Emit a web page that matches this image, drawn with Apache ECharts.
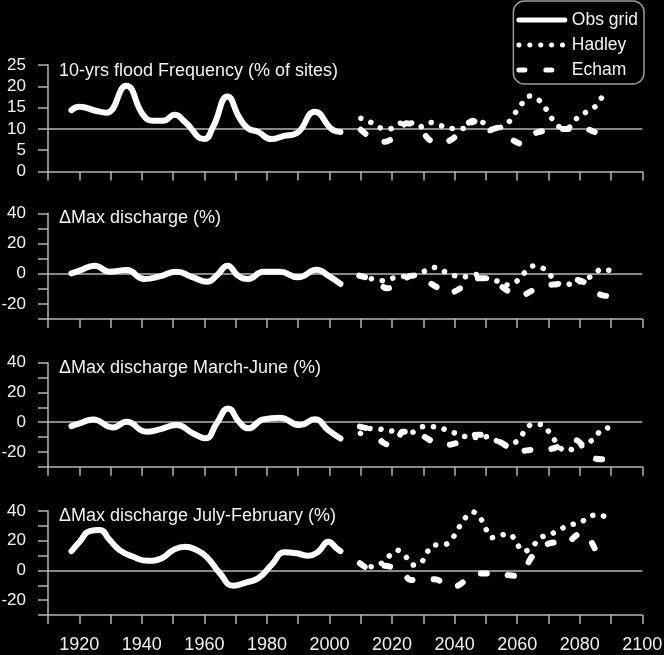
<!DOCTYPE html>
<html><head><meta charset="utf-8">
<script src="https://cdn.jsdelivr.net/npm/echarts@6/dist/echarts.min.js"></script>
<style>html,body{margin:0;padding:0;background:#000}#c{width:664px;height:655px}</style>
</head><body><div id="c"></div><script>
// ---- data ----
const panelTitles = ['10-yrs flood Frequency (% of sites)', '\u0394Max discharge (%)', '\u0394Max discharge March-June (%)', '\u0394Max discharge July-February (%)'];
const seriesNames = ['Obs grid', 'Hadley', 'Echam'];
const xLabelYears = [1920, 1940, 1960, 1980, 2000, 2020, 2040, 2060, 2080, 2100];
const yLabelsFlood = [0, 5, 10, 15, 20, 25];
const yLabelsDischarge = [-20, 0, 20, 40];
const refLines = [10, 0, 0, 0];

const obsFlood = [[1917.5,14.4],[1920,15.2],[1925.5,14.2],[1928.7,13.8],[1935,20.1],[1940.4,13.3],[1943.6,11.9],[1946.8,11.9],[1950.5,13.3],[1953.7,11.7],[1960,7.6],[1962.8,10.5],[1967.4,17.6],[1971.3,12.5],[1974,10.1],[1977.2,9.3],[1981.5,7.6],[1985.2,8.3],[1989.5,9.0],[1995.3,14.0],[2001.2,9.7],[2003.5,9.3]];
const hadleyFlood = [[2010,12.5],[2013,11.6],[2016,10.3],[2019.3,10.0],[2022.5,11.3],[2026.7,11.4],[2029,10.5],[2032.3,11.5],[2035.8,10.7],[2039.2,10.1],[2042.8,10.1],[2046.2,11.6],[2049,11.5],[2051.5,9.6],[2054.5,10.3],[2057.2,11.5],[2059.3,13.7],[2061.4,15.8],[2063.8,17.7],[2066.7,16.9],[2069.1,14.8],[2071,12.5],[2073.5,10.5],[2076.6,10.4],[2078.8,12.3],[2081.7,13.8],[2084.9,15.2],[2087,17.3],[2089.5,18.9]];
const echamFlood = [[2010,9.8],[2012.5,8.3],[2015,7.3],[2018,7.0],[2020.4,8.0],[2022.5,10],[2024.6,11.3],[2028,10.7],[2030,9.2],[2031.4,7.8],[2034.2,6.5],[2037,6.8],[2039.6,7.8],[2041.9,9.7],[2044,11.2],[2045.8,11.9],[2049.2,9.7],[2051.5,9.8],[2054,10.3],[2056.6,8.8],[2059,7.2],[2061.2,6.5],[2063.9,8.2],[2066.5,9.2],[2068.9,9.6],[2071.5,10.1],[2075,10],[2077.8,10],[2081.1,10.2],[2084,9.5],[2086.7,8.7],[2089.5,7.6]];

const obsMax = [[1917.5,0.2],[1920.1,2],[1924.9,5.3],[1929.7,1.3],[1935.1,2.4],[1940.9,-3.5],[1945.7,-1.8],[1951.1,1.3],[1956.4,-2.4],[1960.9,-5.3],[1963.9,-1.3],[1967.4,5.3],[1970.8,-1.3],[1974,-3.5],[1978.8,1.3],[1984.1,1.3],[1990,-2.4],[1995.9,2.6],[1999.6,-1.3],[2003.5,-6.8]];
const hadleyMax = [[2010,-1.8],[2012.9,-3.1],[2016.9,-4.6],[2020.3,-2.9],[2023.8,-1.8],[2026.8,-1.3],[2030,1.3],[2033.2,4.2],[2036.6,1.5],[2039.9,-1.3],[2043.3,-2],[2047.1,-0.5],[2050.8,-3.5],[2053.8,-5],[2057,-7.5],[2060.1,-4.6],[2062.5,0.9],[2065.4,5.3],[2068.7,3.1],[2071.2,-2.4],[2074,-7.3],[2077.1,-6.8],[2080.8,-4.6],[2084,-1.3],[2087,3.1],[2090.2,1.8]];
const echamMax = [[2009.5,-1.3],[2013.1,-3.5],[2016,-7],[2018.3,-9.7],[2021.2,-7.9],[2023.7,-4],[2026.2,-1.3],[2029.4,-2.4],[2032,-6],[2034.4,-9.1],[2037.2,-13.5],[2039.8,-12],[2042.2,-9.1],[2044.9,-4.6],[2047.5,-3],[2050,-3.1],[2053.6,-6.2],[2056,-10],[2058.2,-12.8],[2061.1,-15],[2064,-12],[2066.7,-9.1],[2069.9,-7.5],[2072.5,-7],[2075.3,-6.2],[2078.8,-4],[2081.3,-5.5],[2083.8,-8.4],[2086.3,-13.5],[2089.5,-15],[2092.7,-15.7]];

const obsMarJun = [[1917.5,-2.7],[1920.1,-0.9],[1924.4,1.8],[1930.8,-3.6],[1935.1,0.2],[1941.5,-6.5],[1945.7,-4.9],[1951.1,-2],[1956.4,-7.6],[1960.4,-10.9],[1963.9,-0.9],[1967.6,9.2],[1971.1,0.2],[1974,-4.2],[1978.8,1.8],[1984.1,2.9],[1990.5,-2],[1995.3,2],[1999.6,-5.4],[2003.5,-11]];
const hadleyMarJun = [[2009.9,-7.6],[2012.7,-4.3],[2016.7,-4.9],[2020,-6],[2023.6,-6.5],[2025.5,-7.6],[2030,-3.1],[2033.5,-3.1],[2036.9,-4.9],[2040.4,-7.6],[2043.8,-9.9],[2047,-10.3],[2050.4,-9.9],[2054,-13.2],[2057,-16.2],[2060,-12.6],[2062.3,-6.5],[2064.8,-1.3],[2068.2,-2],[2070.5,-7.6],[2072.6,-13.9],[2075.1,-19.2],[2078.5,-17.7],[2081.7,-14.8],[2084.7,-11],[2087,-4.9],[2090.2,-3.8]];
const echamMarJun = [[2009.7,-3],[2013.5,-5.4],[2015.5,-10],[2017.2,-13.9],[2020.4,-16.2],[2022,-11],[2023.4,-6.5],[2028,-7.2],[2030.5,-10],[2033,-13.2],[2036.2,-15.5],[2039,-15],[2041.5,-13.2],[2044,-9.9],[2047,-8.5],[2049.7,-8.8],[2052.9,-11.7],[2055,-14],[2056.8,-16.2],[2060.7,-20],[2063,-19],[2066.4,-18.4],[2069.9,-18.4],[2072.5,-17],[2075.3,-14.8],[2078.8,-12.1],[2081,-16],[2082.7,-20],[2084.9,-24.5],[2088,-25],[2090.5,-25],[2093.4,-25]];

const obsJulFeb = [[1917.5,13],[1920.1,19.3],[1923.3,26.5],[1926.5,27.2],[1929.7,20.5],[1932.9,13.7],[1937.2,9.2],[1942,6.5],[1946.3,8.1],[1950,13.7],[1953.8,16],[1957.5,13.7],[1960.7,9.2],[1965,-2],[1969.2,-10.3],[1973.5,-8],[1977.2,-5.3],[1981.4,3.6],[1985.7,12.2],[1989.5,11.5],[1993.2,9.9],[1996.4,12.6],[1999.6,19.3],[2002.3,14.9],[2003.5,13]];
const hadleyJulFeb = [[2010,4.5],[2013,2.5],[2016.1,4.1],[2018.8,9.2],[2021.6,13.7],[2024.4,9.2],[2026.6,3.6],[2029.2,4.8],[2031,11.5],[2033.2,17.1],[2036.6,17.1],[2039.4,22],[2041.2,28.3],[2043.1,34.6],[2045.8,39.5],[2048.3,35],[2049.9,28.3],[2051.8,22],[2054.7,23.8],[2057.7,24.3],[2059.8,18.2],[2062.2,12.6],[2065.1,16.6],[2067.3,22],[2070.7,24.3],[2073.9,27.9],[2077.1,30.6],[2080.6,32.8],[2083.5,36.8],[2086.8,37.3],[2089.5,32.8]];
const echamJulFeb = [[2009.7,4.8],[2013.5,0.3],[2015.5,1.5],[2017.7,3.2],[2021.5,0.9],[2024,-3],[2025.9,-6.5],[2029.8,-6.5],[2032.5,-6],[2034.8,-6.5],[2037.4,-11],[2040,-11],[2042.2,-8.7],[2044.9,-3.6],[2047.5,-2],[2050,-2],[2053.4,-2],[2056.5,-3],[2059.3,-3.6],[2062,0.3],[2063.5,5],[2065.1,10.4],[2067.5,15.3],[2070,18],[2072.4,18.9],[2075.8,17.6],[2078,22],[2080.6,25.6],[2083.1,21.6],[2084.5,16],[2086,9.9],[2088.6,6.3]];

const panelData = [
  [obsFlood, hadleyFlood, echamFlood],
  [obsMax, hadleyMax, echamMax],
  [obsMarJun, hadleyMarJun, echamMarJun],
  [obsJulFeb, hadleyJulFeb, echamJulFeb]
];

// ---- layout / style ----
const FONT = "'Liberation Sans', Arial, sans-serif";
const TXT = '#f2f2f2';
const AX = '#b4b4b4';
const gridBoxes = [
  { top: 65, height: 106.5 },
  { top: 213.3, height: 105.7 },
  { top: 362.7, height: 104 },
  { top: 511, height: 104 }
];
const lineStyles = [
  { width: 6, type: 'solid', cap: 'round', join: 'round' },
  { width: 5.5, type: [0.1, 10.8], cap: 'round', join: 'round' },
  { width: 6, type: [6, 21], cap: 'round', join: 'round' }
];
const smoothing = [0.5, 0.3, 0.3];

const grid = [], xAxis = [], yAxis = [], series = [], title = [];
gridBoxes.forEach((g, i) => {
  grid.push({ left: 48, right: 21.7, top: g.top, height: g.height, outerBoundsMode: 'none', containLabel: false });
  title.push({
    text: panelTitles[i], left: 59, top: g.top - 4 + (i === 0 ? 1 : 0), padding: 0,
    textStyle: { color: TXT, fontFamily: FONT, fontSize: 18, fontWeight: 'normal', lineHeight: 18 }
  });
  xAxis.push({
    type: 'value', gridIndex: i, min: 1910, max: 2100, interval: 10,
    axisLine: { show: true, onZero: false, lineStyle: { color: AX, width: 1.5 } },
    axisTick: { show: true, length: 9, lineStyle: { color: AX, width: 1.5 } },
    splitLine: { show: false },
    axisLabel: {
      show: i === 3, color: TXT, fontFamily: FONT, fontSize: 18, margin: 21,
      formatter: v => xLabelYears.includes(v) ? String(v) : ''
    }
  });
  const flood = i === 0;
  yAxis.push({
    type: 'value', gridIndex: i,
    min: flood ? 0 : -30, max: flood ? 25 : 40, interval: flood ? 5 : 10,
    axisLine: { show: true, onZero: false, lineStyle: { color: AX, width: 1.5 } },
    axisTick: { show: true, length: 10, lineStyle: { color: AX, width: 1.5 } },
    splitLine: { show: false },
    axisLabel: {
      color: TXT, fontFamily: FONT, fontSize: 17, margin: 22,
      formatter: v => (flood ? yLabelsFlood : yLabelsDischarge).includes(v) ? String(v) : ''
    }
  });
  panelData[i].forEach((d, k) => {
    const s = {
      name: seriesNames[k], type: 'line', xAxisIndex: i, yAxisIndex: i,
      data: d, symbol: 'none', smooth: smoothing[k], z: 10,
      lineStyle: Object.assign({ color: '#ffffff' }, lineStyles[k]),
      itemStyle: { color: '#ffffff' }
    };
    if (k === 0) {
      s.markLine = {
        silent: true, symbol: ['none', 'none'], z: 1, label: { show: false },
        lineStyle: { color: AX, width: 1.5, type: 'solid' },
        data: [{ yAxis: refLines[i] }]
      };
    }
    series.push(s);
  });
});

const chart = echarts.init(document.getElementById('c'), null, { renderer: 'canvas' });
chart.setOption({
  backgroundColor: '#000000',
  animation: false,
  title, grid, xAxis, yAxis, series,
  legend: {
    data: seriesNames, orient: 'vertical', right: 20, top: 1,
    padding: [10, 6, 5, 3], itemWidth: 46, itemHeight: 14, itemGap: 7,
    borderColor: '#9a9a9a', borderWidth: 1.5, borderRadius: 11,
    textStyle: { color: TXT, fontFamily: FONT, fontSize: 17.5, lineHeight: 18, padding: [0, 0, 0, 2] },
    lineStyle: { width: 5 },
    itemStyle: { opacity: 0, borderWidth: 0 },
    selectedMode: false
  }
});
</script></body></html>
